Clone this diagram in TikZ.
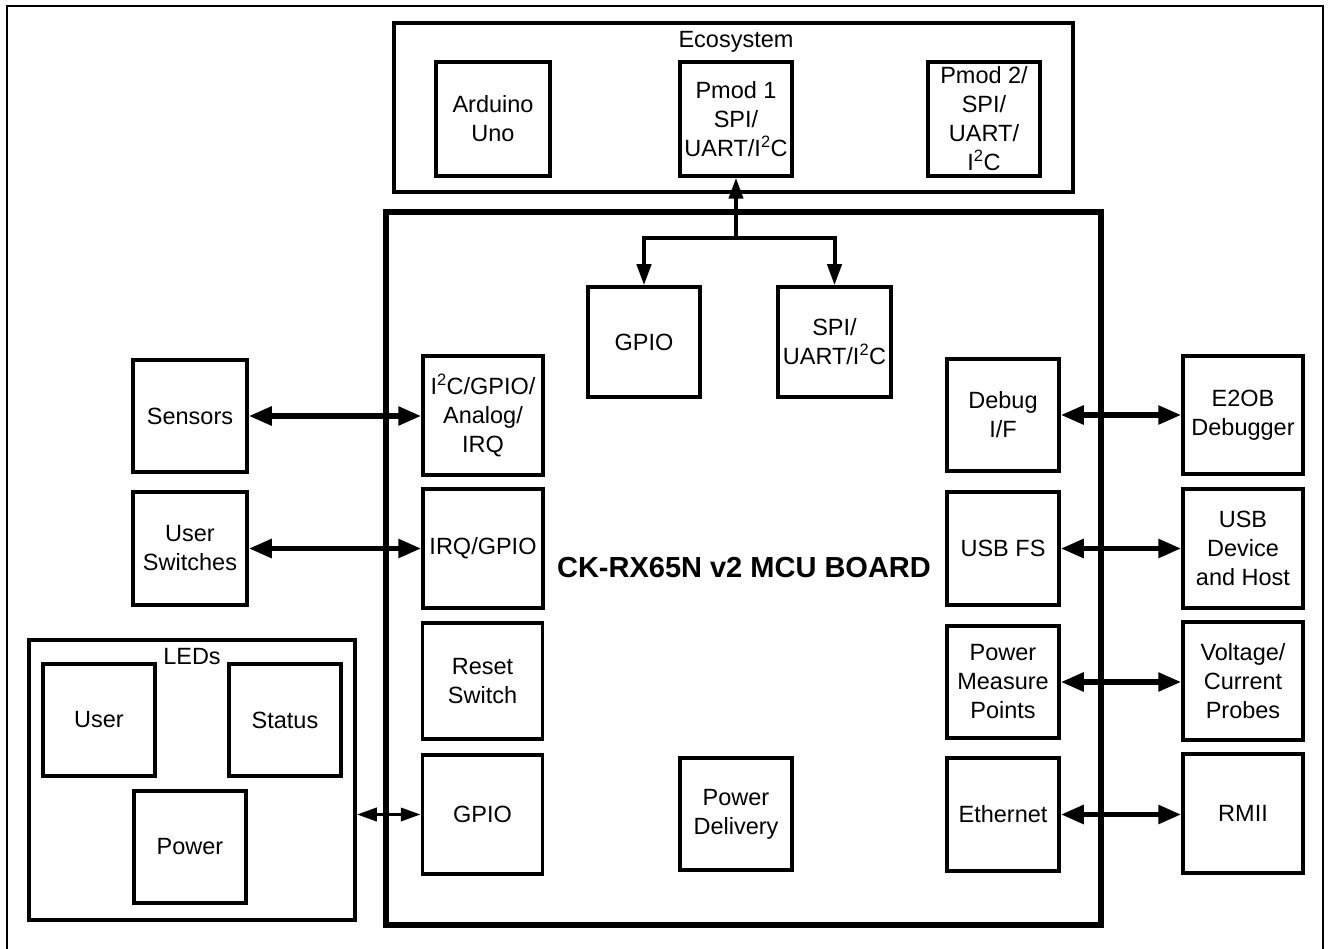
\documentclass[tikz,border=0pt]{standalone}
\usepackage{fontspec}
\setmainfont{Liberation Sans}
\usetikzlibrary{arrows.meta}
\begin{document}
\begin{tikzpicture}[x=1pt,y=-1pt,
  box/.style={draw, line width=3.5pt, inner sep=0pt, align=center, font=\fontsize{23.5}{29}\selectfont},
  sz/.style 2 args={minimum width=#1pt, minimum height=#2pt},
  lbl/.style={inner sep=0pt, font=\fontsize{23.5}{29}\selectfont},
  arr/.style={line width=5.5pt, arrows={Triangle[length=23pt,width=18pt]-Triangle[length=23pt,width=18pt]}},
  ecoarr/.style={line width=4pt, arrows={-Triangle[length=21pt,width=14pt]}},
  ledarr/.style={line width=3.5pt, arrows={Triangle[length=20pt,width=13pt]-Triangle[length=20pt,width=13pt]}}
]
\useasboundingbox (0,0) rectangle (1328,949);
% outer frame
\draw[line width=2pt] (7,970) -- (7,6) -- (1323,6) -- (1323,970);

% Ecosystem
\node[box, sz={679}{169}] (eco) at (733.5,107.5) {};
\node[lbl] (ecot) at (736,42) {Ecosystem};
\node[box, sz={114}{114}] (arduino) at (493,119) {Arduino\\Uno};
\node[box, sz={112}{114}] (pmod1) at (736,119) {Pmod 1\\SPI/\\UART/I\textsuperscript{2}C};
\node[box, sz={112}{114}] (pmod2) at (984,119) {Pmod 2/\\SPI/\\UART/\\I\textsuperscript{2}C};

% MCU board
\node[draw, line width=5.5pt, sz={715}{713}, inner sep=0pt] (mcu) at (743.5,568.5) {};
\node[inner sep=0pt, font=\bfseries\fontsize{29}{34}\selectfont] (mcut) at (744,568) {CK-RX65N v2 MCU BOARD};

\node[box, sz={112}{110}] (gpioT) at (644,342) {GPIO};
\node[box, sz={113}{110}] (spi) at (834.5,342) {SPI/\\UART/I\textsuperscript{2}C};

\node[box, sz={120}{119}] (i2c) at (483,415.5) {I\textsuperscript{2}C/GPIO/\\Analog/\\IRQ};
\node[box, sz={120}{119}] (irq) at (483,548.5) {IRQ/GPIO};
\node[box, sz={120}{116}] (reset) at (482.5,681) {Reset\\Switch};
\node[box, sz={120}{119}] (gpioL) at (482.5,814.5) {GPIO};

\node[box, sz={112}{112}] (pdel) at (736,814) {Power\\Delivery};

\node[box, sz={112}{112}] (debug) at (1003,415) {Debug\\I/F};
\node[box, sz={112}{113}] (usbfs) at (1003,548.5) {USB FS};
\node[box, sz={112}{112}] (pmeas) at (1003,682) {Power\\Measure\\Points};
\node[box, sz={112}{113}] (eth) at (1003,814.5) {Ethernet};

% right external
\node[box, sz={120}{118}] (e2ob) at (1243,415) {E2OB\\Debugger};
\node[box, sz={120}{119}] (usbdh) at (1243,548.5) {USB\\Device\\and Host};
\node[box, sz={120}{118}] (volt) at (1243,681) {Voltage/\\Current\\Probes};
\node[box, sz={120}{119}] (rmii) at (1243,813.5) {RMII};

% left external
\node[box, sz={114}{112}] (sensors) at (190,416) {Sensors};
\node[box, sz={114}{113}] (usersw) at (190,548.5) {User\\Switches};

% LEDs
\node[box, sz={326}{280}] (leds) at (192,780) {};
\node[lbl] (ledst) at (192,657) {LEDs};
\node[box, sz={112}{112}] (ledU) at (99,720) {User};
\node[box, sz={112}{112}] (ledS) at (285,720) {Status};
\node[box, sz={112}{112}] (ledP) at (190,847) {Power};

% connectors
\coordinate (j) at (736,238);
\draw[ecoarr] (j) -- (pmod1.south);
\draw[ecoarr] (j) -| (gpioT.north);
\draw[ecoarr] (j) -| (spi.north);

\draw[arr] (sensors.east) -- (sensors.east -| i2c.west);
\draw[arr] (usersw.east) -- (usersw.east -| irq.west);
\draw[ledarr] (gpioL.west -| leds.east) -- (gpioL.west);

\draw[arr] (debug.east) -- (debug.east -| e2ob.west);
\draw[arr] (usbfs.east) -- (usbfs.east -| usbdh.west);
\draw[arr] (pmeas.east) -- (pmeas.east -| volt.west);
\draw[arr] (eth.east) -- (eth.east -| rmii.west);
\end{tikzpicture}
\end{document}
